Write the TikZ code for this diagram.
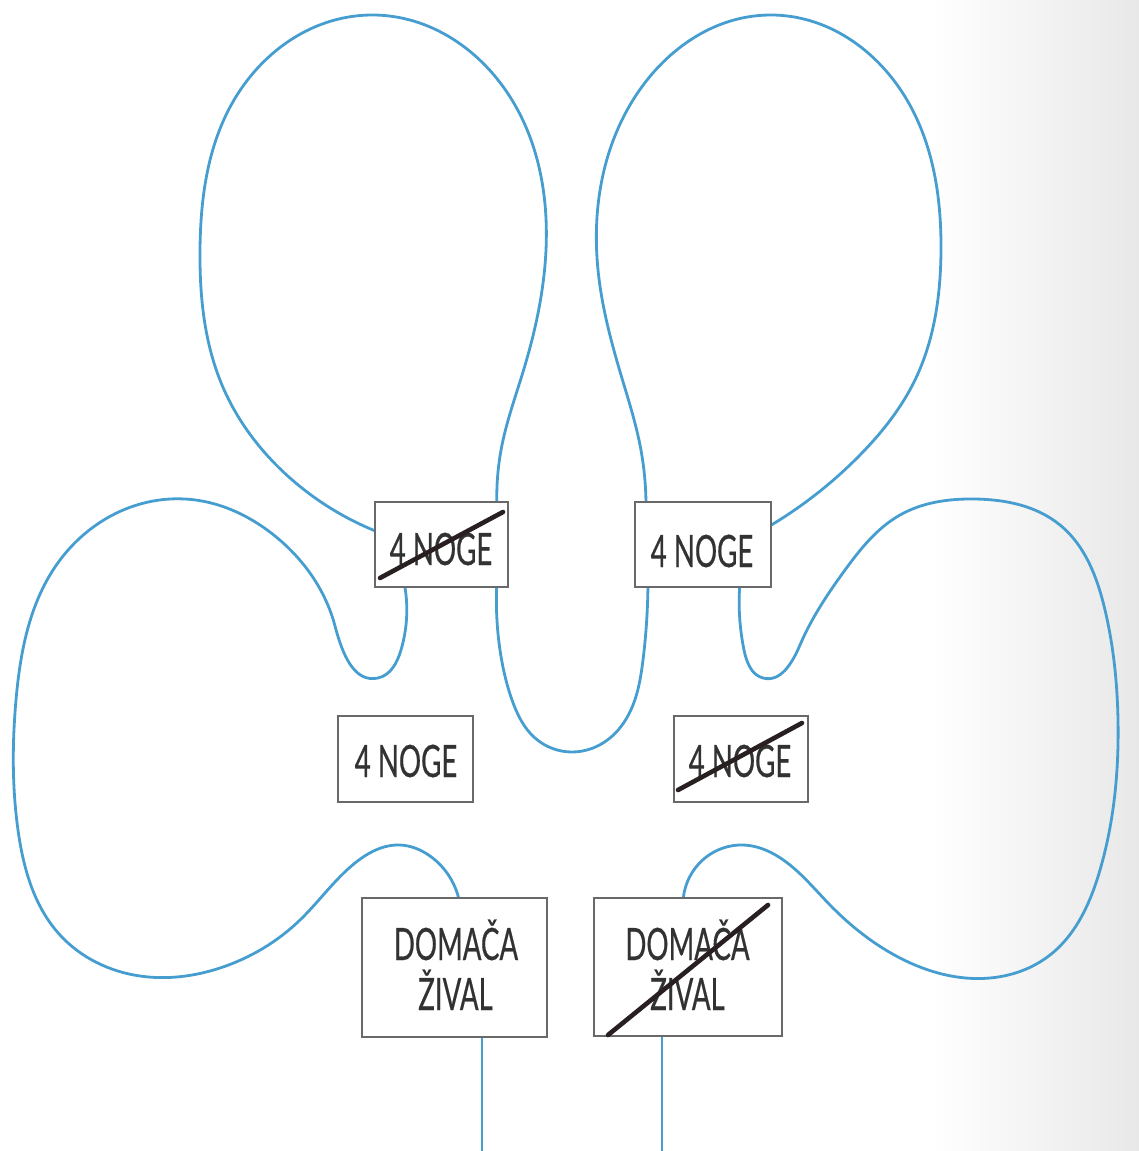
\documentclass[tikz,border=0pt]{standalone}
\usepackage{fontspec}
\setmainfont{Lato}[FakeStretch=0.62,FakeBold=0.4]
\usetikzlibrary{hobby}
\definecolor{lineblue}{RGB}{70,158,208}
\definecolor{boxgray}{RGB}{105,105,105}
\definecolor{txtgray}{RGB}{50,50,50}
\definecolor{crossc}{RGB}{40,32,32}
\begin{document}
\begin{tikzpicture}[x=1pt,y=-1pt,
  lobe/.style={draw=lineblue, line width=2.8pt, line cap=round, line join=round, use Hobby shortcut},
  card/.style={draw=boxgray, fill=white, line width=2.2pt, inner sep=0pt},
  lbl/.style={text=txtgray, inner sep=0pt, font=\fontsize{44.6pt}{50pt}\selectfont},
  strike/.style={draw=crossc, line width=4.6pt, line cap=round}]
\useasboundingbox (0,0) rectangle (1139,1151);
% background gradient at right edge
\shade[left color=white, right color=black!9] (930,0) rectangle (1139,1151);

% blue continuous line (visible parts)
\draw[lobe] (482,1151) -- (482,1030);
\draw[lobe] (460,905) .. (430,856) .. (400,845) .. (355,863) .. (300,920)
  .. (220,968) .. (140,976) .. (60,935) .. (18,830) .. (16,700) .. (60,560)
  .. (185,499) .. (275,536) .. (335,626) .. (378,678) .. (401,650) .. (404,582);
\draw[lobe] (378,532) .. (290,478) .. (222,385) .. (200,250) .. (234,100)
  .. (372,15) .. (512,100) .. (546,250) .. (523,372) .. (502,445) .. (497,508);
\draw[lobe] (497,580) .. (500,650) .. (512,700) .. (535,738) .. (572,752)
  .. (610,738) .. (633,705) .. (643,660) .. (648,580);
\draw[lobe] (646,508) .. (640,445) .. (621,375) .. (598,270) .. (633,100) .. (770,15)
  .. (907,100) .. (941,250) .. (915,380) .. (860,455) .. (768,527);
\draw[lobe] (740,582) .. (744,650) .. (763,678) .. (800,645) .. (845,570)
  .. (900,515) .. (975,499) .. (1060,525) .. (1105,610) .. (1118,720)
  .. (1100,870) .. (1050,955) .. (990,978) .. (900,958) .. (830,905)
  .. (790,865) .. (743,845) .. (705,858) .. (683,905);
\draw[lobe] (662,1030) -- (662,1151);

% boxes
\node[card, minimum width=133pt, minimum height=85pt] (b1) at (441.5,544.5) {};
\node[card, minimum width=136pt, minimum height=85pt] (b2) at (703,544.5) {};
\node[card, minimum width=135pt, minimum height=86pt] (b3) at (405.5,759) {};
\node[card, minimum width=134pt, minimum height=86pt] (b4) at (741,759) {};
\node[card, minimum width=185pt, minimum height=139pt] (b5) at (454.5,967.5) {};
\node[card, minimum width=188pt, minimum height=138pt] (b6) at (688,967) {};

% labels
\node[lbl, anchor=base] (t1) at (441,565) {4 NOGE};
\node[lbl, anchor=base] (t2) at (702,567) {4 NOGE};
\node[lbl, anchor=base] (t3) at (406,777) {4 NOGE};
\node[lbl, anchor=base] (t4) at (740,777) {4 NOGE};
\node[lbl, anchor=base] (t5a) at (456,960) {DOMAČA};
\node[lbl, anchor=base] (t5b) at (455.5,1010) {ŽIVAL};
\node[lbl, anchor=base] (t6a) at (687.5,960) {DOMAČA};
\node[lbl, anchor=base] (t6b) at (687.5,1010) {ŽIVAL};

% strike-through lines
\draw[strike] (380,578) -- (503,512);
\draw[strike] (678,790) -- (802,723);
\draw[strike] (608,1035) -- (768,905);
\end{tikzpicture}
\end{document}
